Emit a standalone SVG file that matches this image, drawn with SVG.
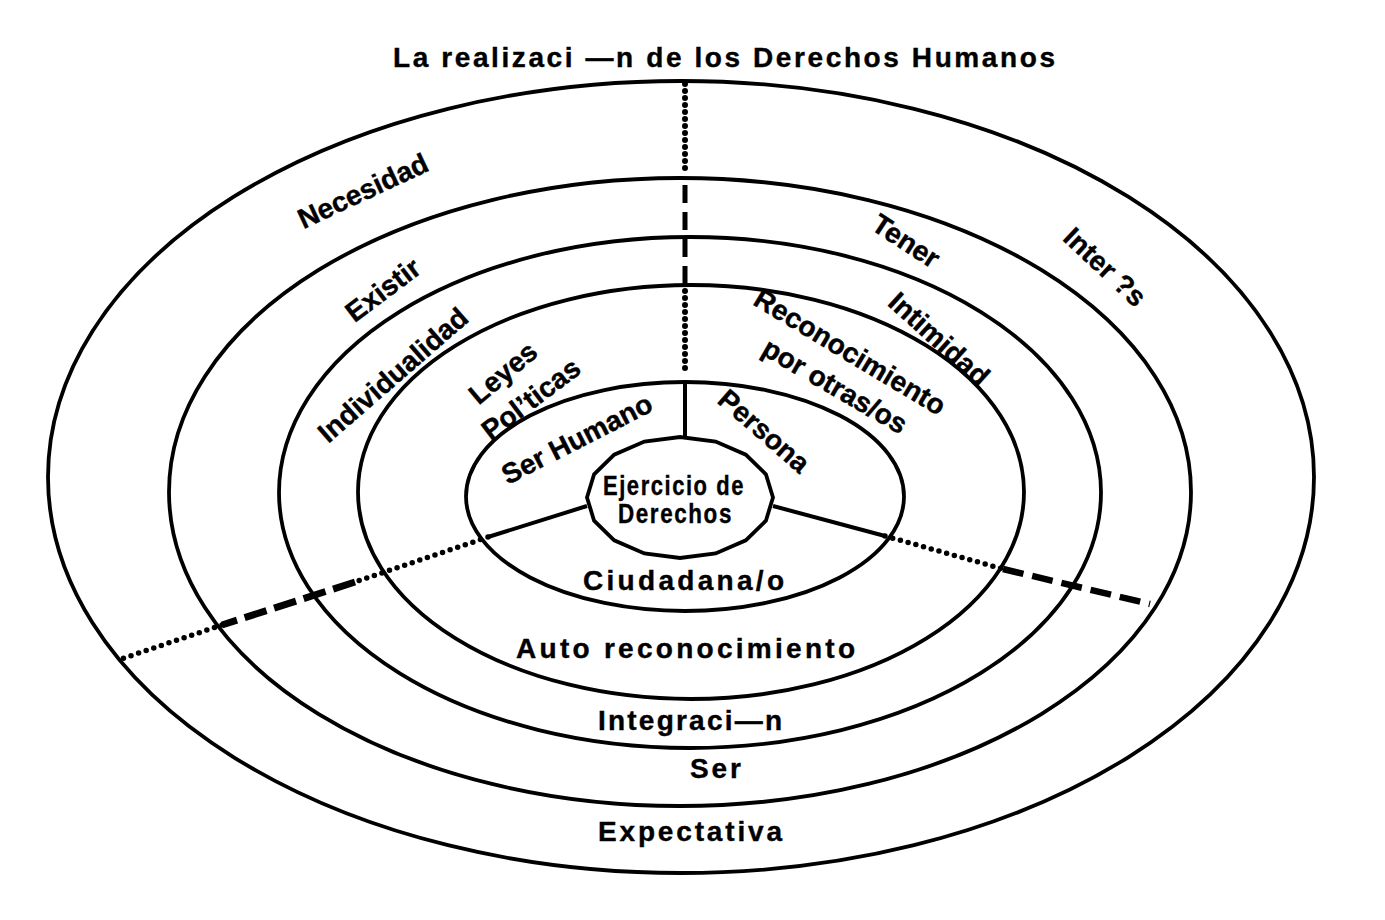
<svg xmlns="http://www.w3.org/2000/svg" width="1385" height="920" viewBox="0 0 1385 920">
<style>
.ring{fill:none;stroke:#000;stroke-width:3.8;stroke-linejoin:miter}
.lbl{font-family:"Liberation Sans",Arial,sans-serif;font-weight:bold;font-size:28px;fill:#000;stroke:#000;stroke-width:0.4}
.rot{text-anchor:middle;dominant-baseline:central}
.solid{stroke:#000;stroke-width:4;fill:none}
.dot{stroke:#000;stroke-width:6;stroke-linecap:round;stroke-dasharray:0 7;fill:none}
.dot2{stroke:#000;stroke-width:5.5;stroke-linecap:round;stroke-dasharray:0 8;fill:none}
.dash{stroke:#000;stroke-width:5;stroke-dasharray:18 9;fill:none}
.dashL{stroke:#000;stroke-width:7;stroke-dasharray:23 8;fill:none}
.dashR{stroke:#000;stroke-width:6.5;stroke-dasharray:21 9;fill:none}
</style>
<rect width="1385" height="920" fill="#fff"/>
<text id="title" class="lbl" x="393" y="67" font-size="23" textLength="662" lengthAdjust="spacing">La realizaci —n de los Derechos Humanos</text>
<g id="ring1"><ellipse class="ring" cx="681" cy="477" rx="633" ry="396"/></g>
<g id="ring2"><ellipse class="ring" cx="680" cy="492" rx="511" ry="314"/></g>
<g id="ring3"><ellipse class="ring" cx="690" cy="492.5" rx="411" ry="255.5"/></g>
<g id="ring4"><ellipse class="ring" cx="691" cy="492" rx="333" ry="207"/></g>
<g id="ring5"><ellipse class="ring" cx="685" cy="496.5" rx="219" ry="114.5"/></g>
<g id="connectors">
<path class="dot" d="M685 84V172"/>
<path class="dash" d="M685 185V287"/>
<path class="dot" d="M685 291V375"/>
<path class="solid" d="M685 382V437"/>
<path class="solid" d="M587 506L488 537"/>
<path class="dot2" d="M488 537L355 582"/>
<path class="dashL" d="M355 582L222 625"/>
<path class="dot2" d="M222 625L121 659"/>
<path class="solid" d="M773 506L885 536"/>
<path class="dot2" d="M885 536L1003 569"/>
<path class="dashR" d="M1003 569L1150 604"/>
</g>
<g id="center">
<polygon class="ring" points="773,497.5 765.9,520.7 745.8,540.3 715.6,553.4 680,558 644.4,553.4 614.2,540.3 594.1,520.7 587,497.5 594.1,474.3 614.2,454.7 644.4,441.6 680,437 715.6,441.6 745.8,454.7 765.9,474.3"/>
<text class="lbl" x="603" y="495" font-size="21" textLength="142" lengthAdjust="spacingAndGlyphs" letter-spacing="2">Ejercicio de</text>
<text class="lbl" x="618" y="523" font-size="21" textLength="115" lengthAdjust="spacingAndGlyphs" letter-spacing="2">Derechos</text>
</g>
<g id="labels-bottom">
<text class="lbl" x="583" y="590" textLength="201" lengthAdjust="spacing">Ciudadana/o</text>
<text class="lbl" x="516" y="658" textLength="339" lengthAdjust="spacing">Auto reconocimiento</text>
<text class="lbl" x="598" y="730" textLength="184" lengthAdjust="spacing">Integraci—n</text>
<text class="lbl" x="690" y="778" textLength="51" lengthAdjust="spacing">Ser</text>
<text class="lbl" x="598" y="841" textLength="184" lengthAdjust="spacing">Expectativa</text>
</g>
<g id="labels-left">
<text class="lbl rot" transform="translate(363 191) rotate(-25)">Necesidad</text>
<text class="lbl rot" transform="translate(383 290) rotate(-37)">Existir</text>
<text class="lbl rot" transform="translate(393 375) rotate(-41)">Individualidad</text>
<text class="lbl rot" transform="translate(503 373) rotate(-40)">Leyes</text>
<text class="lbl rot" transform="translate(531 399) rotate(-37)">Pol’ticas</text>
<text class="lbl rot" transform="translate(577 439) rotate(-27)">Ser Humano</text>
</g>
<g id="labels-right">
<text class="lbl rot" transform="translate(906 241) rotate(33)">Tener</text>
<text class="lbl rot" transform="translate(1105 267) rotate(43)">Inter ?s</text>
<text class="lbl rot" transform="translate(939 339) rotate(42)">Intimidad</text>
<text class="lbl rot" transform="translate(850 352) rotate(31)">Reconocimiento</text>
<text class="lbl rot" transform="translate(835 386) rotate(30)">por otras/os</text>
<text class="lbl rot" transform="translate(764 431) rotate(41)">Persona</text>
</g>
</svg>
